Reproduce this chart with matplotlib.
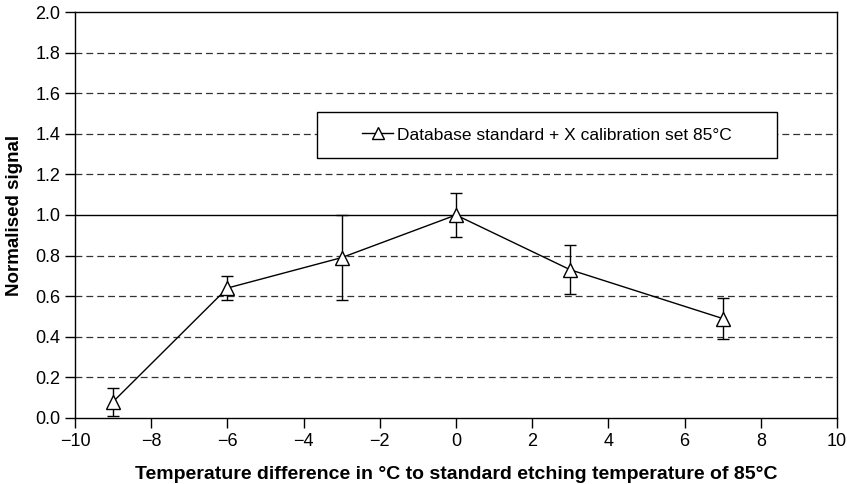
"""Normalised signal vs etching temperature difference, with error bars."""

import matplotlib

matplotlib.use("Agg")
import matplotlib.pyplot as plt
from matplotlib.lines import Line2D
from matplotlib.patches import Rectangle

plt.rcParams["font.family"] = ["Liberation Sans", "DejaVu Sans"]

temp_diff = [-9, -6, -3, 0, 3, 7]
signal = [0.08, 0.64, 0.79, 1.00, 0.73, 0.49]
err_low = [0.07, 0.06, 0.21, 0.11, 0.12, 0.10]
err_high = [0.07, 0.06, 0.21, 0.11, 0.12, 0.10]

x_ticks = list(range(-10, 11, 2))
y_ticks = [0.0, 0.2, 0.4, 0.6, 0.8, 1.0, 1.2, 1.4, 1.6, 1.8, 2.0]
series_label = "Database standard + X calibration set 85°C"


def main() -> None:
    fig = plt.figure(figsize=(8.47, 4.84), dpi=100)
    ax = fig.add_axes([0.0885, 0.1364, 0.8997, 0.8388])

    for y in y_ticks[1:-1]:
        if y == 1.0:
            ax.axhline(y, color="black", lw=1.0, zorder=1)
        else:
            ax.axhline(y, color="#333333", lw=0.9, ls=(0, (5.5, 3.2)), zorder=1)

    ax.errorbar(temp_diff, signal, yerr=[err_low, err_high], color="black",
                lw=1.0, elinewidth=1.0, capsize=4, capthick=1.0,
                marker="^", markersize=10, markerfacecolor="white",
                markeredgecolor="black", markeredgewidth=1.0, zorder=3)

    ax.set_xlim(-10, 10)
    ax.set_ylim(0, 2.0)
    ax.set_xticks(x_ticks)
    ax.set_xticklabels([str(t).replace("-", "\u2212") for t in x_ticks])
    ax.set_yticks(y_ticks)
    ax.set_yticklabels([f"{t:.1f}" for t in y_ticks])
    ax.tick_params(direction="out", length=7, width=1.0, labelsize=13, colors="black")
    for s in ax.spines.values():
        s.set_linewidth(1.0)

    ax.set_xlabel("Temperature difference in °C to standard etching temperature of 85°C",
                  fontsize=14, fontweight="bold", labelpad=12)
    ax.set_ylabel("Normalised signal", fontsize=13.5, fontweight="bold", labelpad=9)

    # legend box: fixed white frame, entry centred inside it
    box = Rectangle((0.3176, 0.6404), 0.6034, 0.1133, transform=ax.transAxes,
                    facecolor="white", edgecolor="black", lw=1.0, zorder=4)
    ax.add_patch(box)
    handle = Line2D([], [], color="black", lw=1.0, marker="^", markersize=9,
                    markerfacecolor="white", markeredgecolor="black")
    leg = ax.legend([handle], [series_label], loc="center",
                    bbox_to_anchor=(0.3176 + 0.6034 / 2, 0.6404 + 0.1133 / 2),
                    frameon=False, fontsize=12.5, handlelength=1.8, handletextpad=0.2)
    leg.set_zorder(5)

    fig.savefig("out.png", dpi=100)
    plt.close(fig)


if __name__ == "__main__":
    main()
